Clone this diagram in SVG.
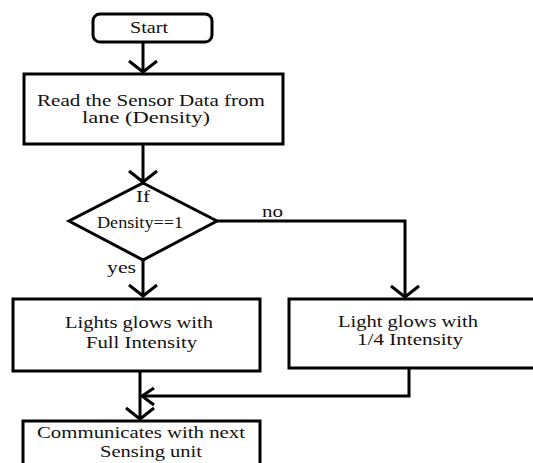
<svg xmlns="http://www.w3.org/2000/svg" width="533" height="463" viewBox="0 0 533 463">
<style>
.box{fill:#fff;stroke:#000;stroke-width:3}
.ln{fill:none;stroke:#000;stroke-width:3}
text{font-family:'Liberation Serif','DejaVu Serif',serif;font-size:16px;fill:#111}
</style>
<defs>
<marker id="arr" markerUnits="userSpaceOnUse" viewBox="-14 -16 16 32" refX="0" refY="0" markerWidth="16" markerHeight="32" orient="auto" overflow="visible">
<path d="M-11,-14 L0,0 L-11,14" fill="none" stroke="#000" stroke-width="3"/>
</marker>
<marker id="arr2" markerUnits="userSpaceOnUse" viewBox="-14 -16 16 32" refX="0" refY="0" markerWidth="16" markerHeight="32" orient="auto" overflow="visible">
<path d="M-12,-9 L0,0 L-12,8" fill="none" stroke="#000" stroke-width="3"/>
</marker>
</defs>
<rect width="533" height="463" fill="#fff"/>
<g id="connectors">
<path class="ln" d="M143,42 V72" marker-end="url(#arr)"/>
<path class="ln" d="M143,144 V182" marker-end="url(#arr)"/>
<path class="ln" d="M143,260 V296" marker-end="url(#arr)"/>
<path class="ln" d="M217,221 H405 V297" marker-end="url(#arr)"/>
<path class="ln" d="M409,368 V396 H142" marker-end="url(#arr2)"/>
<path class="ln" d="M140,371 V419" marker-end="url(#arr)"/>
<text x="262" y="217" textLength="21" lengthAdjust="spacingAndGlyphs">no</text>
<text x="107" y="273" textLength="29" lengthAdjust="spacingAndGlyphs">yes</text>
</g>
<g id="start">
<rect class="box" x="93" y="14" width="119" height="28" rx="7"/>
<text x="130" y="33" textLength="38" lengthAdjust="spacingAndGlyphs">Start</text>
</g>
<g id="read">
<rect class="box" x="24" y="74" width="259" height="70"/>
<text x="37" y="106" textLength="228" lengthAdjust="spacingAndGlyphs">Read the Sensor Data from</text>
<text x="82" y="123" textLength="128" lengthAdjust="spacingAndGlyphs">lane (Density)</text>
</g>
<g id="decision">
<polygon class="box" points="143,183 217,221 143,260 69,221"/>
<text x="136" y="202" textLength="14" lengthAdjust="spacingAndGlyphs">If</text>
<text x="97" y="228" textLength="86" lengthAdjust="spacingAndGlyphs">Density==1</text>
</g>
<g id="full">
<rect class="box" x="13" y="299" width="247" height="72"/>
<text x="65" y="328" textLength="148" lengthAdjust="spacingAndGlyphs">Lights glows with</text>
<text x="86" y="348" textLength="111" lengthAdjust="spacingAndGlyphs">Full Intensity</text>
</g>
<g id="quarter">
<rect class="box" x="289" y="299" width="250" height="69"/>
<text x="338" y="327" textLength="140" lengthAdjust="spacingAndGlyphs">Light glows with</text>
<text x="357" y="345" textLength="106" lengthAdjust="spacingAndGlyphs">1/4 Intensity</text>
</g>
<g id="communicate">
<rect class="box" x="23" y="421" width="237" height="50"/>
<text x="37" y="438" textLength="208" lengthAdjust="spacingAndGlyphs">Communicates with next</text>
<text x="100" y="457" textLength="102" lengthAdjust="spacingAndGlyphs">Sensing unit</text>
</g>
</svg>
